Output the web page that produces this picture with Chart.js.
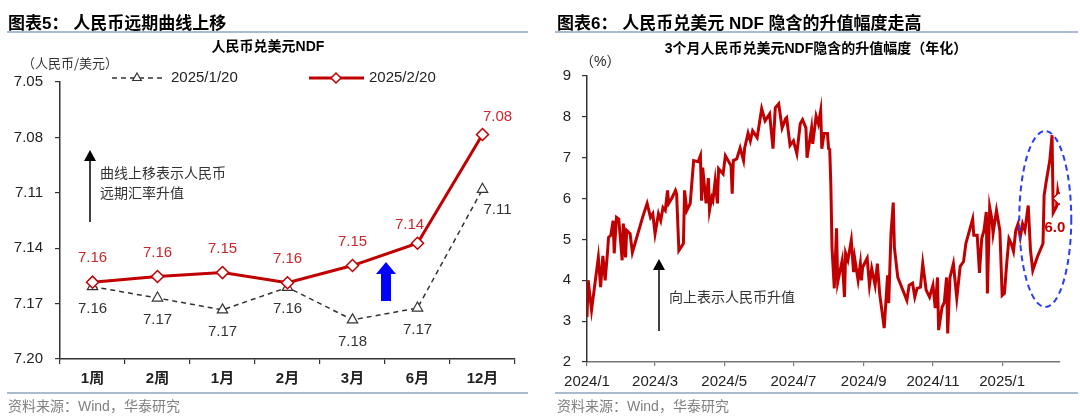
<!DOCTYPE html>
<html>
<head>
<meta charset="utf-8">
<script src="https://cdn.jsdelivr.net/npm/chart.js@4.4.1/dist/chart.umd.min.js"></script>
<style>
body { margin: 0; background: #fff; width: 1080px; height: 419px; position: relative; overflow: hidden; font-family: "Liberation Sans", "Noto Sans CJK SC", sans-serif; }
canvas { position: absolute; top: 0; }
.hd { position: absolute; top: 9px; font: bold 17px "Liberation Sans", "Noto Sans CJK SC", sans-serif; color: #000; white-space: nowrap; }
.rule { position: absolute; height: 2px; background: #a9bccf; }
.src { position: absolute; top: 395px; font-size: 14px; color: #808080; white-space: nowrap; }
</style>
</head>
<body>
<canvas id="leftChart" width="540" height="419" style="left:0"></canvas>
<canvas id="rightChart" width="540" height="419" style="left:540px"></canvas>
<div class="hd" style="left:8px">图表5：&nbsp;人民币远期曲线上移</div>
<div class="hd" style="left:557px">图表6：&nbsp;人民币兑美元 NDF 隐含的升值幅度走高</div>
<div class="rule" style="left:7px;width:521px;top:31px"></div>
<div class="rule" style="left:555px;width:523px;top:31px"></div>
<div class="rule" style="left:7px;width:521px;top:392px"></div>
<div class="rule" style="left:555px;width:523px;top:392px"></div>
<div class="src" style="left:8px">资料来源：Wind，华泰研究</div>
<div class="src" style="left:557px">资料来源：Wind，华泰研究</div>
<script>
// left chart: NDF curve on two dates
const tenors = ['1周', '2周', '1月', '2月', '3月', '6月', '12月'];
const ndfJan = [7.1608, 7.1670, 7.1734, 7.1612, 7.1788, 7.1724, 7.1081];
const ndfFeb = [7.1584, 7.1553, 7.1532, 7.1587, 7.1494, 7.1373, 7.0784];
const leftTicks = [7.05, 7.08, 7.11, 7.14, 7.17, 7.20];

// right chart: implied appreciation, days since 2024/1/1
const ndfDays = [0, 1, 4, 10, 12, 14, 16, 18, 19, 21, 23, 24, 26, 28, 31, 32, 34, 35, 38, 40,
  49, 53, 56, 58, 60, 63, 65, 67, 69, 71, 72, 75, 78, 79, 81, 85, 86, 88, 91, 94,
  98, 100, 101, 102, 105, 107, 108, 110, 111, 113, 115, 116, 120, 122, 127, 128, 129, 132, 135, 138,
  139, 142, 144, 146, 150, 154, 157, 161, 164, 166, 169, 172, 175, 176, 179, 182, 185, 188, 190, 193,
  194, 198, 199, 202, 204, 206, 207, 209, 212, 213, 214, 215, 216, 218, 220, 221, 225, 227, 228, 230,
  233, 235, 236, 239, 241, 242, 243, 247, 249, 251, 254, 256, 258, 262, 265, 266, 268, 270, 271, 274,
  282, 284, 287, 289, 291, 294, 296, 299, 302, 305, 307, 309, 310, 313, 315, 317, 318, 320, 323, 326,
  329, 332, 334, 336, 338, 340, 341, 344, 346, 348, 350, 352, 353, 355, 357, 358, 361, 364, 366, 368,
  370, 372, 374, 376, 378, 380, 382, 384, 386, 389, 391, 393, 397, 402, 403, 405, 408, 410, 411, 414,
  415, 416];
const ndfValues = [3.1, 4.0, 3.27, 4.56, 3.83, 4.6, 4.0, 4.66, 5.05, 5.1, 5.46, 4.66, 5.54, 5.5, 4.49, 5.39, 4.56, 5.22, 5.14, 4.68,
  5.54, 5.88, 5.54, 5.63, 5.14, 5.63, 5.46, 5.78, 5.71, 6.2, 5.88, 6.02, 6.2, 6.12, 4.73, 4.9, 6.2, 5.71, 5.88, 6.93,
  6.9, 7.05, 5.95, 6.76, 5.88, 6.5, 5.71, 6.02, 5.95, 6.44, 5.88, 6.73, 6.6, 7.05, 6.8, 6.12, 6.93, 6.97, 7.24, 6.93,
  7.24, 7.6, 7.41, 7.66, 7.49, 8.2, 7.9, 8.07, 7.22, 8.22, 8.32, 7.73, 7.95, 7.98, 7.3, 7.41, 7.1, 7.83, 7.93, 7.73,
  7.0, 7.73, 7.34, 8.02, 7.83, 8.15, 7.22, 7.59, 7.59, 7.22, 7.2, 6.3, 4.8, 3.8, 5.27, 3.95, 4.49, 3.59, 4.66, 4.49,
  4.98, 4.2, 4.54, 4.0, 4.41, 4.0, 4.32, 4.54, 3.88, 4.29, 3.88, 4.41, 3.68, 2.83, 4.12, 3.44, 5.15, 5.9, 4.8, 4.07,
  3.51, 3.88, 3.93, 3.59, 3.8, 3.83, 4.41, 3.76, 3.59, 3.88, 3.32, 4.07, 2.78, 3.34, 3.46, 4.07, 2.7, 4.07, 4.41, 3.56,
  4.34, 4.46, 4.9, 5.1, 5.3, 5.5, 5.1, 5.1, 4.18, 5.02, 5.22, 5.67, 3.68, 5.79, 5.48, 5.15, 5.71, 5.22, 3.63, 3.68,
  4.41, 5.02, 4.9, 4.71, 5.22, 5.38, 5.06, 5.38, 5.22, 5.83, 4.73, 4.24, 4.57, 4.9, 6.08, 6.44, 6.93, 7.55, 5.65, 5.81,
  6.17, 6.0];
const monthDays = [0, 60, 121, 182, 244, 305, 366];
const monthLabels = ['2024/1', '2024/3', '2024/5', '2024/7', '2024/9', '2024/11', '2025/1'];

const RED = '#c00000';
const LABEL_RED = '#c8282d';
const NUM_FONT = '"Liberation Sans", Arial, sans-serif';
const CJK_FONT = '"Noto Sans CJK SC", sans-serif';

Chart.defaults.font.family = '"Liberation Sans", Arial, "Noto Sans CJK SC", sans-serif';
Chart.defaults.color = '#222';

function arrowUp(ctx, x, yTip, yEnd) {
  ctx.save();
  ctx.strokeStyle = '#000';
  ctx.fillStyle = '#000';
  ctx.lineWidth = 1.5;
  ctx.beginPath();
  ctx.moveTo(x, yEnd);
  ctx.lineTo(x, yTip + 8);
  ctx.stroke();
  ctx.beginPath();
  ctx.moveTo(x, yTip);
  ctx.lineTo(x - 6, yTip + 11);
  ctx.lineTo(x + 6, yTip + 11);
  ctx.closePath();
  ctx.fill();
  ctx.restore();
}

// extra drawing for the left chart: title, legend, notes, point labels
const leftDeco = {
  id: 'leftDeco',
  afterDatasetsDraw(chart) {
    const ctx = chart.ctx;
    const xs = chart.scales.x;
    ctx.save();
    ctx.textBaseline = 'middle';
    ctx.textAlign = 'center';
    ctx.fillStyle = '#000';
    ctx.font = 'bold 14px "Liberation Sans", ' + CJK_FONT;
    ctx.fillText('人民币兑美元NDF', 268, 47);
    ctx.font = '13px ' + CJK_FONT;
    ctx.textAlign = 'left';
    ctx.fillStyle = '#333';
    ctx.fillText('（人民币/美元）', 22, 63);

    // legend
    ctx.strokeStyle = '#333';
    ctx.lineWidth = 1.5;
    ctx.setLineDash([5, 4]);
    ctx.beginPath(); ctx.moveTo(112, 78); ctx.lineTo(162, 78); ctx.stroke();
    ctx.setLineDash([]);
    ctx.strokeStyle = RED;
    ctx.lineWidth = 3;
    ctx.beginPath(); ctx.moveTo(309, 78); ctx.lineTo(364, 78); ctx.stroke();
    ctx.fillStyle = '#fff';
    ctx.strokeStyle = '#333';
    ctx.lineWidth = 1.2;
    Chart.helpers.drawPoint(ctx, { pointStyle: 'triangle', radius: 5, borderWidth: 1.2 }, 137, 78);
    ctx.strokeStyle = RED;
    ctx.lineWidth = 1.5;
    Chart.helpers.drawPoint(ctx, { pointStyle: 'rectRot', radius: 5, borderWidth: 1.5 }, 336, 78);
    ctx.fillStyle = '#222';
    ctx.font = '15px ' + NUM_FONT;
    ctx.fillText('2025/1/20', 171, 78);
    ctx.fillText('2025/2/20', 369, 78);

    // note with arrow
    arrowUp(ctx, 90, 150, 222);
    ctx.font = '14px ' + CJK_FONT;
    ctx.fillStyle = '#333';
    ctx.fillText('曲线上移表示人民币', 100, 173);
    ctx.fillText('远期汇率升值', 100, 193);

    // blue arrow between 3月 and 6月
    const bx = (xs.getPixelForValue(4) + xs.getPixelForValue(5)) / 2 + 1;
    ctx.fillStyle = '#0000ff';
    ctx.beginPath();
    ctx.moveTo(bx, 262);
    ctx.lineTo(bx + 10, 274);
    ctx.lineTo(bx + 5, 274);
    ctx.lineTo(bx + 5, 301);
    ctx.lineTo(bx - 5, 301);
    ctx.lineTo(bx - 5, 274);
    ctx.lineTo(bx - 10, 274);
    ctx.closePath();
    ctx.fill();

    // point labels
    ctx.font = '15px ' + NUM_FONT;
    ctx.textAlign = 'center';
    chart.data.datasets.forEach((ds, di) => {
      const meta = chart.getDatasetMeta(di);
      const isFeb = ds.label === '2025/2/20';
      ctx.fillStyle = isFeb ? LABEL_RED : '#333';
      meta.data.forEach((pt, i) => {
        let dx = 0, dy = isFeb ? -24 : 22;
        if (i === 6) { dx = 15; dy = isFeb ? -18 : 21; }
        if (isFeb && i === 5) { dx = -8; dy = -18; }
        ctx.fillText(ds.data[i].toFixed(2), pt.x + dx, pt.y + dy);
      });
    });
    ctx.restore();
  }
};

new Chart(document.getElementById('leftChart'), {
  type: 'line',
  data: {
    labels: tenors,
    datasets: [
      {
        label: '2025/1/20', data: ndfJan, order: 2,
        borderColor: '#333', borderWidth: 1.5, borderDash: [5, 4],
        pointStyle: 'triangle', pointRadius: 6, pointBorderWidth: 1.2,
        pointBackgroundColor: '#fff', pointBorderColor: '#333'
      },
      {
        label: '2025/2/20', data: ndfFeb, order: 1,
        borderColor: RED, borderWidth: 3,
        pointStyle: 'rectRot', pointRadius: 6, pointBorderWidth: 1.5,
        pointBackgroundColor: '#fff', pointBorderColor: RED
      }
    ]
  },
  options: {
    responsive: false,
    animation: false,
    events: [],
    layout: { padding: { left: 0, right: 25, top: 82, bottom: 30 } },
    plugins: { legend: { display: false }, tooltip: { enabled: false } },
    scales: {
      x: {
        offset: true,
        grid: { offset: true, drawOnChartArea: false, tickLength: 5, color: '#333', lineWidth: 1.2 },
        border: { color: '#333', width: 1.5 },
        ticks: { font: { size: 15, weight: 'bold' }, color: '#222', padding: 6 },
        afterFit: s => { s.height = 30; }
      },
      y: {
        reverse: true, min: 7.05, max: 7.20,
        afterBuildTicks: s => { s.ticks = leftTicks.map(v => ({ value: v })); },
        ticks: { callback: v => v.toFixed(2), font: { size: 15 }, color: '#222', padding: 12 },
        grid: { drawOnChartArea: false, tickLength: 5, color: '#333', lineWidth: 1.2 },
        border: { color: '#333', width: 1.5 },
        afterFit: s => { s.width = 60; }
      }
    }
  },
  plugins: [leftDeco]
});

// extra drawing for the right chart
const rightDeco = {
  id: 'rightDeco',
  afterDatasetsDraw(chart) {
    const ctx = chart.ctx;
    const xs = chart.scales.x, ys = chart.scales.y;
    ctx.save();
    ctx.textBaseline = 'middle';
    ctx.textAlign = 'center';
    ctx.fillStyle = '#000';
    ctx.font = 'bold 14px "Liberation Sans", ' + CJK_FONT;
    ctx.fillText('3个月人民币兑美元NDF隐含的升值幅度（年化）', 276, 49);
    ctx.textAlign = 'left';
    ctx.font = '14px "Liberation Sans", ' + CJK_FONT;
    ctx.fillStyle = '#222';
    ctx.fillText('（%）', 40, 62);

    arrowUp(ctx, 119, 259, 331);
    ctx.font = '14px ' + CJK_FONT;
    ctx.fillStyle = '#333';
    ctx.fillText('向上表示人民币升值', 129, 297);

    // dashed ellipse around the latest move
    ctx.strokeStyle = '#2a3cf5';
    ctx.lineWidth = 2;
    ctx.setLineDash([6, 4]);
    ctx.beginPath();
    ctx.ellipse(xs.getPixelForValue(404), ys.getPixelForValue(5.5), 26, 88, 0, 0, Math.PI * 2);
    ctx.stroke();
    ctx.setLineDash([]);

    const n = ndfDays.length - 1;
    ctx.fillStyle = RED;
    ctx.font = 'bold 15px ' + NUM_FONT;
    ctx.textAlign = 'center';
    ctx.fillText(ndfValues[n].toFixed(1), xs.getPixelForValue(ndfDays[n]) - 4, ys.getPixelForValue(ndfValues[n]) + 29);
    ctx.restore();
  }
};

new Chart(document.getElementById('rightChart'), {
  type: 'line',
  data: {
    datasets: [{
      data: ndfDays.map((d, i) => ({ x: d, y: ndfValues[i] })),
      borderColor: RED, borderWidth: 3, tension: 0,
      pointStyle: 'rectRot', pointBorderWidth: 1.5,
      pointRadius: c => (c.dataIndex === ndfDays.length - 1 ? 6 : 0),
      pointBackgroundColor: '#fff', pointBorderColor: RED
    }]
  },
  options: {
    responsive: false,
    animation: false,
    events: [],
    layout: { padding: { left: 0, right: 20, top: 76, bottom: 27 } },
    plugins: { legend: { display: false }, tooltip: { enabled: false } },
    scales: {
      x: {
        type: 'linear', min: 0, max: 417,
        afterBuildTicks: s => { s.ticks = monthDays.map(v => ({ value: v })); },
        ticks: { callback: (v, i) => monthLabels[i], font: { size: 15 }, color: '#222', padding: 7, maxRotation: 0, autoSkip: false },
        grid: { drawOnChartArea: false, tickLength: 4, color: '#777', lineWidth: 1.2 },
        border: { color: '#777', width: 1.5 },
        afterFit: s => { s.height = 30; }
      },
      y: {
        min: 2, max: 9,
        ticks: { stepSize: 1, font: { size: 15 }, color: '#222', padding: 11 },
        grid: { drawOnChartArea: false, tickLength: 5, color: '#333', lineWidth: 1.2 },
        border: { color: '#333', width: 1.5 },
        afterFit: s => { s.width = 47; }
      }
    }
  },
  plugins: [rightDeco]
});
</script>
</body>
</html>
